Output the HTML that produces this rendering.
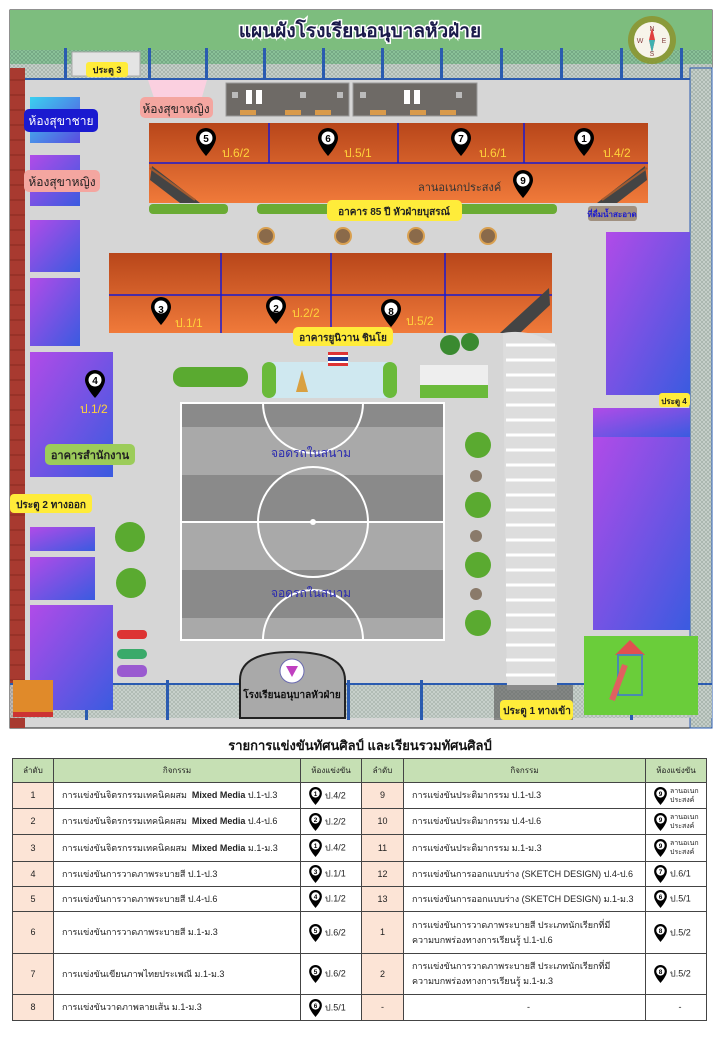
<!DOCTYPE html>
<html><head><meta charset="utf-8"><style>
body{margin:0;background:#fff;width:720px;height:1040px;overflow:hidden;font-family:"Liberation Sans","Noto Sans CJK SC",sans-serif}
svg text{font-family:"Liberation Sans","Noto Sans CJK SC",sans-serif}
table{position:absolute;left:12px;top:758px;width:694px;border-collapse:collapse;font-size:9px;color:#222;table-layout:fixed}
td{border:1px solid #444;padding:0 0 0 8px;height:24px;line-height:11px;overflow:hidden}
td.n{background:#fce4d6;text-align:center;padding:0}
tr.h td{background:#c6e0b4;text-align:center;padding:0;height:23px;font-size:8px}
.p{vertical-align:middle;margin-right:3px}
.la{display:inline-block;vertical-align:middle;font-size:7px;line-height:9px;width:34px}
</style></head><body>
<svg width="720" height="740" style="position:absolute;left:0;top:0" xmlns="http://www.w3.org/2000/svg">
<defs>
<linearGradient id="or" x1="0" y1="0" x2="0" y2="1"><stop offset="0" stop-color="#b8461a"/><stop offset="1" stop-color="#f07a3a"/></linearGradient>
<linearGradient id="pu" x1="0" y1="0" x2="1" y2="1"><stop offset="0" stop-color="#b14be8"/><stop offset="1" stop-color="#3a5be0"/></linearGradient>
<linearGradient id="cy" x1="0" y1="0" x2="1" y2="1"><stop offset="0" stop-color="#3ad0f0"/><stop offset="1" stop-color="#5a4be0"/></linearGradient>
<pattern id="fn" width="4" height="4" patternUnits="userSpaceOnUse"><rect width="4" height="4" fill="#c8d2cc"/><path d="M0 0L4 4M4 0L0 4" stroke="#9aa8a0" stroke-width=".6"/></pattern>
<pattern id="fg" width="4" height="4" patternUnits="userSpaceOnUse"><rect width="4" height="4" fill="#8cc49a"/><path d="M0 0L4 4M4 0L0 4" stroke="#6a9a7a" stroke-width=".6"/></pattern>
<symbol id="pin" viewBox="0 0 20 28"><path d="M10 0A10 10 0 0 1 20 10C20 17 10 28 10 28C10 28 0 17 0 10A10 10 0 0 1 10 0Z" fill="#000"/><circle cx="10" cy="10" r="6.5" fill="#fff"/></symbol>
</defs>
<rect x="10" y="10" width="702" height="718" fill="#d6d6d6" stroke="#222"/>
<rect x="10" y="10" width="702" height="50" fill="#7dbd7e"/>
<rect x="10" y="50" width="702" height="14" fill="url(#fg)"/>
<rect x="10" y="64" width="702" height="14" fill="url(#fn)"/>
<rect x="10" y="78" width="702" height="2" fill="#2a5bb0"/>
<g fill="#2a5bb0"><rect x="64" y="48" width="3" height="32"/><rect x="148" y="48" width="3" height="32"/><rect x="205" y="48" width="3" height="32"/><rect x="263" y="48" width="3" height="32"/><rect x="322" y="48" width="3" height="32"/><rect x="381" y="48" width="3" height="32"/><rect x="440" y="48" width="3" height="32"/><rect x="500" y="48" width="3" height="32"/><rect x="560" y="48" width="3" height="32"/><rect x="620" y="48" width="3" height="32"/><rect x="680" y="48" width="3" height="32"/></g>
<rect x="72" y="52" width="68" height="24" fill="#e4e4e4" stroke="#aaa"/>
<text x="360" y="37" text-anchor="middle" font-size="19" font-weight="bold" fill="#1a1a4a" stroke="#fff" stroke-width="3" paint-order="stroke">แผนผังโรงเรียนอนุบาลหัวฝ่าย</text>
<circle cx="652" cy="40" r="24" fill="#8a9a3a"/><circle cx="652" cy="40" r="18" fill="#f7f4ea"/>
<path d="M652 27L655 40L652 53L649 40Z" fill="#e04040"/><path d="M652 40L655 40L652 53L649 40Z" fill="#40b0b0"/>
<g font-size="7" fill="#844" text-anchor="middle"><text x="652" y="31">N</text><text x="652" y="56">S</text><text x="640" y="43">W</text><text x="664" y="43">E</text></g>
<rect x="10" y="68" width="15" height="660" fill="#a83a30"/>
<g stroke="#6a1a10" stroke-width=".5"><path d="M10 80H25M10 95H25M10 110H25M10 125H25M10 140H25M10 155H25M10 170H25M10 185H25M10 200H25M10 215H25M10 230H25M10 245H25M10 260H25M10 275H25M10 290H25M10 305H25M10 320H25M10 335H25M10 350H25M10 365H25M10 380H25M10 395H25M10 410H25M10 425H25M10 440H25M10 455H25M10 470H25M10 485H25M10 500H25M10 515H25M10 530H25M10 545H25M10 560H25M10 575H25M10 590H25M10 605H25M10 620H25M10 635H25M10 650H25M10 665H25M10 680H25"/></g>
<rect x="690" y="68" width="22" height="660" fill="url(#fn)" stroke="#2a5bb0"/>
<rect x="10" y="683" width="702" height="35" fill="url(#fn)" opacity=".85"/>
<g fill="#2a5bb0"><rect x="85" y="680" width="3" height="40"/><rect x="166" y="680" width="3" height="40"/><rect x="347" y="680" width="3" height="40"/><rect x="420" y="680" width="3" height="40"/><rect x="630" y="680" width="3" height="40"/><rect x="10" y="683" width="702" height="2"/></g>
<path d="M148 80H207L200 104H156Z" fill="#fbd0e0"/>
<rect x="140" y="97" width="73" height="21" rx="5" fill="#f4a6a0"/><text x="176" y="113" text-anchor="middle" font-size="12" fill="#222">ห้องสุขาหญิง</text>
<rect x="86" y="62" width="42" height="15" rx="3" fill="#ffec3a"/><text x="107" y="73" text-anchor="middle" font-size="9" font-weight="bold" fill="#222">ประตู 3</text>
<rect x="226" y="83" width="123" height="33" fill="#6e6a66" stroke="#999"/><rect x="353" y="83" width="124" height="33" fill="#6e6a66" stroke="#999"/>
<g fill="#bbb"><rect x="232" y="92" width="6" height="6"/><rect x="300" y="92" width="6" height="6"/><rect x="337" y="92" width="6" height="6"/><rect x="360" y="92" width="6" height="6"/><rect x="456" y="92" width="6" height="6"/></g>
<g fill="#d99a4a"><rect x="240" y="110" width="16" height="5"/><rect x="285" y="110" width="16" height="5"/><rect x="315" y="110" width="16" height="5"/><rect x="370" y="110" width="16" height="5"/><rect x="410" y="110" width="16" height="5"/><rect x="440" y="110" width="16" height="5"/></g>
<g fill="#fff"><rect x="246" y="90" width="6" height="14"/><rect x="256" y="90" width="6" height="14"/><rect x="404" y="90" width="6" height="14"/><rect x="414" y="90" width="6" height="14"/></g>
<rect x="149" y="123" width="499" height="80" fill="url(#or)"/>
<path d="M149 163H648M269 123V163M398 123V163M524 123V163" stroke="#1a1ad0" stroke-width="1.5"/>
<path d="M152 166L200 203H180L150 180Z" fill="#444"/><path d="M645 166L597 203H617L647 180Z" fill="#444"/>
<path d="M150 168L195 200M647 168L602 200" stroke="#a05a30" stroke-width="2"/>
<g font-size="12" fill="#ffd23a"><text x="222" y="157">ป.6/2</text><text x="344" y="157">ป.5/1</text><text x="479" y="157">ป.6/1</text><text x="603" y="157">ป.4/2</text></g>
<g font-size="10" font-weight="bold" text-anchor="middle">
<use href="#pin" x="196" y="128" width="20" height="28"/><text x="206" y="142">5</text>
<use href="#pin" x="318" y="128" width="20" height="28"/><text x="328" y="142">6</text>
<use href="#pin" x="451" y="128" width="20" height="28"/><text x="461" y="142">7</text>
<use href="#pin" x="574" y="128" width="20" height="28"/><text x="584" y="142">1</text>
<use href="#pin" x="513" y="170" width="20" height="28"/><text x="523" y="184">9</text>
</g>
<text x="418" y="191" font-size="11" fill="#333">ลานอเนกประสงค์</text>
<rect x="149" y="204" width="79" height="10" rx="4" fill="#6aab34"/><rect x="257" y="204" width="300" height="10" rx="4" fill="#6aab34"/>
<rect x="327" y="200" width="135" height="21" rx="5" fill="#ffec3a"/><text x="394" y="215" text-anchor="middle" font-size="10" font-weight="bold" fill="#222">อาคาร 85 ปี หัวฝ่ายบุสรณ์</text>
<rect x="588" y="206" width="49" height="15" rx="3" fill="#a09080"/><text x="612" y="217" text-anchor="middle" font-size="8" font-weight="bold" fill="#1a1ad0">ที่ดื่มน้ำสะอาด</text>
<g fill="#8a6a4a" stroke="#d9a050" stroke-width="2"><circle cx="266" cy="236" r="8"/><circle cx="343" cy="236" r="8"/><circle cx="416" cy="236" r="8"/><circle cx="488" cy="236" r="8"/></g>
<rect x="109" y="253" width="443" height="80" fill="url(#or)"/>
<path d="M109 295H552M221 253V333M331 253V333M445 253V333" stroke="#1a1ad0" stroke-width="1.5"/>
<path d="M549 288L500 333H520L550 305Z" fill="#444"/>
<g font-size="12" fill="#ffd23a"><text x="175" y="327">ป.1/1</text><text x="292" y="317">ป.2/2</text><text x="406" y="325">ป.5/2</text></g>
<g font-size="10" font-weight="bold" text-anchor="middle">
<use href="#pin" x="151" y="297" width="20" height="28"/><text x="161" y="313">3</text>
<use href="#pin" x="266" y="296" width="20" height="28"/><text x="276" y="312">2</text>
<use href="#pin" x="381" y="299" width="20" height="28"/><text x="391" y="315">8</text>
</g>
<rect x="293" y="327" width="100" height="19" rx="5" fill="#ffec3a"/><text x="343" y="341" text-anchor="middle" font-size="10" font-weight="bold" fill="#222">อาคารยูนิวาน ชินโย</text>
<rect x="30" y="97" width="50" height="46" fill="url(#cy)"/>
<rect x="30" y="155" width="50" height="51" fill="url(#pu)"/>
<rect x="30" y="220" width="50" height="52" fill="url(#pu)"/>
<rect x="30" y="278" width="50" height="68" fill="url(#pu)"/>
<rect x="30" y="352" width="83" height="125" fill="url(#pu)"/>
<rect x="30" y="527" width="65" height="24" fill="url(#pu)"/>
<rect x="30" y="557" width="65" height="43" fill="url(#pu)"/>
<rect x="30" y="605" width="83" height="105" fill="url(#pu)"/>
<rect x="24" y="109" width="74" height="23" rx="5" fill="#1a1ad0"/><text x="61" y="125" text-anchor="middle" font-size="12" fill="#fff">ห้องสุขาชาย</text>
<rect x="24" y="170" width="76" height="22" rx="5" fill="#f4a6a0"/><text x="62" y="186" text-anchor="middle" font-size="12" fill="#222">ห้องสุขาหญิง</text>
<use href="#pin" x="85" y="370" width="20" height="28"/><text x="95" y="384" text-anchor="middle" font-size="10" font-weight="bold">4</text>
<text x="80" y="413" font-size="12" fill="#ffd23a">ป.1/2</text>
<rect x="45" y="444" width="90" height="21" rx="5" fill="#9ccc5a"/><text x="90" y="459" text-anchor="middle" font-size="11" font-weight="bold" fill="#222">อาคารสำนักงาน</text>
<rect x="10" y="494" width="82" height="19" rx="4" fill="#ffec3a"/><text x="51" y="508" text-anchor="middle" font-size="10" font-weight="bold" fill="#222">ประตู 2 ทางออก</text>
<rect x="606" y="232" width="84" height="163" fill="url(#pu)"/>
<rect x="593" y="408" width="97" height="29" fill="url(#pu)"/>
<rect x="593" y="437" width="97" height="193" fill="url(#pu)"/>
<rect x="659" y="393" width="31" height="14" rx="3" fill="#ffec3a"/><text x="674" y="404" text-anchor="middle" font-size="8" font-weight="bold" fill="#222">ประตู 4</text>
<rect x="584" y="636" width="114" height="79" fill="#6acd3a"/>
<path d="M630 640L645 655H615Z" fill="#e05050"/><rect x="618" y="655" width="24" height="40" fill="none" stroke="#4a8ab0" stroke-width="2"/><path d="M612 700L625 665" stroke="#e06060" stroke-width="6"/>
<path d="M503 333Q530 328 557 345V690H507Z" fill="#ddd"/>
<g stroke="#fff" stroke-width="3" fill="none"><path d="M506 345H555M506 360H555M506 375H555M506 390H555M506 405H555M506 420H555M506 435H555M506 450H555M506 465H555M506 480H555M506 495H555M506 510H555M506 525H555M506 540H555M506 555H555M506 570H555M506 585H555M506 600H555M506 615H555M506 630H555M506 645H555M506 660H555M506 675H555"/></g>
<g fill="#555"><path d="M494 685H573V720H494Z" opacity=".6"/></g>
<rect x="500" y="700" width="73" height="20" rx="4" fill="#ffec3a"/><text x="537" y="714" text-anchor="middle" font-size="10" font-weight="bold" fill="#222">ประตู 1 ทางเข้า</text>
<rect x="173" y="367" width="75" height="20" rx="9" fill="#5aaa30"/>
<rect x="266" y="362" width="127" height="36" fill="#cfe8f0"/><rect x="262" y="362" width="14" height="36" rx="7" fill="#6aba3a"/><rect x="383" y="362" width="14" height="36" rx="7" fill="#6aba3a"/>
<rect x="328" y="352" width="20" height="14" fill="#fff"/><rect x="328" y="352" width="20" height="3" fill="#d33"/><rect x="328" y="357" width="20" height="4" fill="#1a3a9a"/><rect x="328" y="363" width="20" height="3" fill="#d33"/>
<path d="M296 392L302 370L308 392Z" fill="#d9a040"/>
<rect x="420" y="365" width="68" height="33" fill="#eee"/><rect x="420" y="385" width="68" height="13" fill="#6aba3a"/>
<g fill="#3a8a30"><circle cx="450" cy="345" r="10"/><circle cx="470" cy="342" r="9"/></g>
<g fill="#5aaa30"><circle cx="478" cy="445" r="13"/><circle cx="478" cy="505" r="13"/><circle cx="478" cy="565" r="13"/><circle cx="478" cy="623" r="13"/><circle cx="130" cy="537" r="15"/><circle cx="131" cy="583" r="15"/></g>
<g fill="#8a7a6a"><circle cx="476" cy="476" r="6"/><circle cx="476" cy="536" r="6"/><circle cx="476" cy="594" r="6"/></g>
<rect x="117" y="630" width="30" height="9" rx="4" fill="#d33"/><rect x="117" y="649" width="30" height="10" rx="5" fill="#3aaa6a"/><rect x="117" y="665" width="30" height="12" rx="5" fill="#9a5ad0"/>
<rect x="13" y="680" width="40" height="35" fill="#e08a2a"/><rect x="13" y="712" width="40" height="5" fill="#c33"/>
<rect x="180" y="403" width="265" height="237" fill="#8a8a8a"/>
<g fill="#a9a9a9"><rect x="180" y="427" width="265" height="48"/><rect x="180" y="522" width="265" height="48"/><rect x="180" y="618" width="265" height="22"/></g>
<g stroke="#fff" stroke-width="2" fill="none"><rect x="181" y="403" width="263" height="237"/><path d="M181 522H444"/><circle cx="313" cy="522" r="55"/><path d="M263 403A50 50 0 0 0 363 403"/><path d="M263 640A50 50 0 0 1 363 640"/></g>
<circle cx="313" cy="522" r="3" fill="#fff"/>
<text x="311" y="457" text-anchor="middle" font-size="12" fill="#2a2ab0">จอดรถในสนาม</text>
<text x="311" y="597" text-anchor="middle" font-size="12" fill="#2a2ab0">จอดรถในสนาม</text>
<path d="M240 718V680Q240 652 292 652Q345 652 345 680V718Z" fill="#a9a9a9" stroke="#222" stroke-width="2"/>
<circle cx="292" cy="671" r="12" fill="#fff" stroke="#6a6ab0"/><path d="M286 666H298L292 677Z" fill="#c040c0"/>
<text x="292" y="698" text-anchor="middle" font-size="10" font-weight="bold" fill="#111">โรงเรียนอนุบาลหัวฝ่าย</text>
</svg>
<div style="position:absolute;left:0;top:735px;width:720px;text-align:center;font-size:13px;font-weight:bold;color:#111">รายการแข่งขันทัศนศิลป์ และเรียนรวมทัศนศิลป์</div>
<table>
<colgroup><col style="width:41px"><col style="width:247px"><col style="width:61px"><col style="width:42px"><col style="width:242px"><col style="width:61px"></colgroup>
<tr class="h"><td>ลำดับ</td><td>กิจกรรม</td><td>ห้องแข่งขัน</td><td>ลำดับ</td><td>กิจกรรม</td><td>ห้องแข่งขัน</td></tr>
<tr><td class="n" style="height:25px">1</td><td>การแข่งขันจิตรกรรมเทคนิคผสม &nbsp;<b>Mixed Media</b> ป.1-ป.3</td><td><svg class="p" width="13" height="18" viewBox="0 0 20 28"><use href="#pin"/><text x="10" y="14" font-size="10" font-weight="bold" text-anchor="middle">1</text></svg>ป.4/2</td><td class="n">9</td><td>การแข่งขันประติมากรรม ป.1-ป.3</td><td><svg class="p" width="13" height="18" viewBox="0 0 20 28"><use href="#pin"/><text x="10" y="14" font-size="10" font-weight="bold" text-anchor="middle">9</text></svg><span class="la">ลานอเนก ประสงค์</span></td></tr>
<tr><td class="n" style="height:25px">2</td><td>การแข่งขันจิตรกรรมเทคนิคผสม &nbsp;<b>Mixed Media</b> ป.4-ป.6</td><td><svg class="p" width="13" height="18" viewBox="0 0 20 28"><use href="#pin"/><text x="10" y="14" font-size="10" font-weight="bold" text-anchor="middle">2</text></svg>ป.2/2</td><td class="n">10</td><td>การแข่งขันประติมากรรม ป.4-ป.6</td><td><svg class="p" width="13" height="18" viewBox="0 0 20 28"><use href="#pin"/><text x="10" y="14" font-size="10" font-weight="bold" text-anchor="middle">9</text></svg><span class="la">ลานอเนก ประสงค์</span></td></tr>
<tr><td class="n" style="height:26px">3</td><td>การแข่งขันจิตรกรรมเทคนิคผสม &nbsp;<b>Mixed Media</b> ม.1-ม.3</td><td><svg class="p" width="13" height="18" viewBox="0 0 20 28"><use href="#pin"/><text x="10" y="14" font-size="10" font-weight="bold" text-anchor="middle">1</text></svg>ป.4/2</td><td class="n">11</td><td>การแข่งขันประติมากรรม ม.1-ม.3</td><td><svg class="p" width="13" height="18" viewBox="0 0 20 28"><use href="#pin"/><text x="10" y="14" font-size="10" font-weight="bold" text-anchor="middle">9</text></svg><span class="la">ลานอเนก ประสงค์</span></td></tr>
<tr><td class="n">4</td><td>การแข่งขันการวาดภาพระบายสี ป.1-ป.3</td><td><svg class="p" width="13" height="18" viewBox="0 0 20 28"><use href="#pin"/><text x="10" y="14" font-size="10" font-weight="bold" text-anchor="middle">3</text></svg>ป.1/1</td><td class="n">12</td><td>การแข่งขันการออกแบบร่าง (SKETCH DESIGN) ป.4-ป.6</td><td><svg class="p" width="13" height="18" viewBox="0 0 20 28"><use href="#pin"/><text x="10" y="14" font-size="10" font-weight="bold" text-anchor="middle">7</text></svg>ป.6/1</td></tr>
<tr><td class="n">5</td><td>การแข่งขันการวาดภาพระบายสี ป.4-ป.6</td><td><svg class="p" width="13" height="18" viewBox="0 0 20 28"><use href="#pin"/><text x="10" y="14" font-size="10" font-weight="bold" text-anchor="middle">4</text></svg>ป.1/2</td><td class="n">13</td><td>การแข่งขันการออกแบบร่าง (SKETCH DESIGN) ม.1-ม.3</td><td><svg class="p" width="13" height="18" viewBox="0 0 20 28"><use href="#pin"/><text x="10" y="14" font-size="10" font-weight="bold" text-anchor="middle">6</text></svg>ป.5/1</td></tr>
<tr><td class="n" style="height:41px">6</td><td>การแข่งขันการวาดภาพระบายสี ม.1-ม.3</td><td><svg class="p" width="13" height="18" viewBox="0 0 20 28"><use href="#pin"/><text x="10" y="14" font-size="10" font-weight="bold" text-anchor="middle">5</text></svg>ป.6/2</td><td class="n">1</td><td style="line-height:15px">การแข่งขันการวาดภาพระบายสี ประเภทนักเรียกที่มี<br>ความบกพร่องทางการเรียนรู้ ป.1-ป.6</td><td><svg class="p" width="13" height="18" viewBox="0 0 20 28"><use href="#pin"/><text x="10" y="14" font-size="10" font-weight="bold" text-anchor="middle">8</text></svg>ป.5/2</td></tr>
<tr><td class="n" style="height:40px">7</td><td>การแข่งขันเขียนภาพไทยประเพณี ม.1-ม.3</td><td><svg class="p" width="13" height="18" viewBox="0 0 20 28"><use href="#pin"/><text x="10" y="14" font-size="10" font-weight="bold" text-anchor="middle">5</text></svg>ป.6/2</td><td class="n">2</td><td style="line-height:15px">การแข่งขันการวาดภาพระบายสี ประเภทนักเรียกที่มี<br>ความบกพร่องทางการเรียนรู้ ม.1-ม.3</td><td><svg class="p" width="13" height="18" viewBox="0 0 20 28"><use href="#pin"/><text x="10" y="14" font-size="10" font-weight="bold" text-anchor="middle">8</text></svg>ป.5/2</td></tr>
<tr><td class="n" style="height:25px">8</td><td>การแข่งขันวาดภาพลายเส้น ม.1-ม.3</td><td><svg class="p" width="13" height="18" viewBox="0 0 20 28"><use href="#pin"/><text x="10" y="14" font-size="10" font-weight="bold" text-anchor="middle">6</text></svg>ป.5/1</td><td class="n">-</td><td style="text-align:center">-</td><td style="text-align:center">-</td></tr>
</table>
</body></html>
